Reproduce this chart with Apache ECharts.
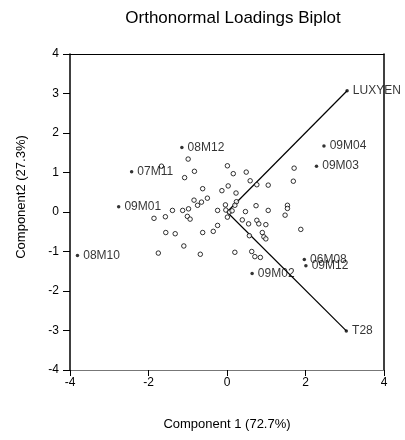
<!DOCTYPE html>
<html>
<head>
<meta charset="utf-8">
<script src="https://cdn.jsdelivr.net/npm/echarts@6/dist/echarts.min.js"></script>
<style>html,body{margin:0;padding:0;background:#fff;}#chart{width:405px;height:440px;}</style>
</head>
<body>
<div id="chart"></div>
<script>
// Unlabeled observation scores
var obsX = [-0.99,-1.67,-0.83,-1.08,0.01,0.16,-0.62,0.03,-0.13,0.23,-0.50,-0.84,-0.65,-0.75,-1.39,-1.13,-0.98,-1.86,-1.57,-1.01,-0.94,-0.24,-0.04,0.24,0.20,0.01,0.06,-1.56,-1.32,-0.62,-0.35,-0.24,-1.10,-1.75,-0.68,0.20,0.49,0.59,0.76,1.05,1.71,1.69,0.47,0.74,1.05,1.54,1.54,1.48,0.39,0.55,0.76,0.81,0.99,0.90,0.94,0.99,1.88,0.57,0.63,0.71,0.85,0.13,-0.03];
var obsY = [1.34,1.16,1.03,0.87,1.17,0.97,0.59,0.66,0.54,0.48,0.35,0.30,0.25,0.17,0.04,0.04,0.08,-0.16,-0.12,-0.11,-0.18,0.04,0.18,0.26,0.17,-0.13,0.00,-0.52,-0.55,-0.52,-0.49,-0.34,-0.86,-1.04,-1.07,-1.02,1.01,0.79,0.69,0.68,1.11,0.78,0.01,0.16,0.04,0.17,0.09,-0.08,-0.20,-0.30,-0.21,-0.30,-0.32,-0.52,-0.63,-0.68,-0.44,-0.60,-1.00,-1.13,-1.15,0.03,0.05];
// Labeled observations
var labelNames = ['09M04','09M03','08M12','07M11','09M01','08M10','06M08','09M12','09M02'];
var labelX = [2.47,2.28,-1.15,-2.43,-2.76,-3.81,1.97,2.01,0.64];
var labelY = [1.67,1.16,1.63,1.02,0.13,-1.10,-1.20,-1.36,-1.56];
// Variable loadings (vectors)
var loadingNames = ['LUXYEN','T28'];
var loadingX = [3.06,3.04];
var loadingY = [3.07,-3.01];
// Axis ticks
var xTicks = [-4,-2,0,2,4];
var yTicks = [-4,-3,-2,-1,0,1,2,3,4];

var FONT = "'Liberation Sans', Arial, sans-serif";
var chart = echarts.init(document.getElementById('chart'), null, {renderer:'canvas'});

var obsData = obsX.map(function(x,i){return [x, obsY[i]];});
var labData = labelNames.map(function(n,i){return {name:n, value:[labelX[i], labelY[i]]};});
loadingNames.forEach(function(n,i){labData.push({name:n, value:[loadingX[i], loadingY[i]]});});
var vecSeries = loadingNames.map(function(n,i){
  return {type:'line', name:n+'_vec', data:[[0,0],[loadingX[i],loadingY[i]]], symbol:'none',
    lineStyle:{color:'#000', width:1.2}, silent:true, z:2, animation:false};
});

var option = {
  animation:false,
  title:{text:'Orthonormal Loadings Biplot', left:228, top:5, textAlign:'center',
    textStyle:{fontFamily:FONT, fontSize:17, fontWeight:'normal', color:'#000'}},
  grid:{left:70, right:21, top:54, bottom:70, containLabel:false},
  xAxis:[{type:'value', min:xTicks[0], max:xTicks[xTicks.length-1], interval:2, position:'bottom',
    name:'Component 1 (72.7%)', nameLocation:'middle', nameGap:48,
    nameTextStyle:{fontFamily:FONT, fontSize:13, color:'#000'},
    axisLine:{show:true, onZero:false, lineStyle:{color:'#777', width:1}},
    axisTick:{show:true, length:6, lineStyle:{color:'#000', width:1}},
    axisLabel:{fontFamily:FONT, fontSize:12, color:'#000', margin:7},
    splitLine:{show:false}},
   {type:'value', min:-4, max:4, interval:2, position:'top',
    axisLine:{show:true, onZero:false, lineStyle:{color:'#000', width:1}},
    axisTick:{show:false}, axisLabel:{show:false}, splitLine:{show:false}}],
  yAxis:[{type:'value', min:yTicks[0], max:yTicks[yTicks.length-1], interval:1, position:'left',
    axisLine:{show:true, onZero:false, lineStyle:{color:'#000', width:1.5}},
    axisTick:{show:true, length:7, lineStyle:{color:'#000', width:1}},
    axisLabel:{fontFamily:FONT, fontSize:12, color:'#000', margin:11},
    splitLine:{show:false}},
   {type:'value', min:-4, max:4, interval:1, position:'right',
    axisLine:{show:true, onZero:false, lineStyle:{color:'#000', width:1.5}},
    axisTick:{show:false}, axisLabel:{show:false}, splitLine:{show:false}}],
  graphic:[{type:'text', x:21, y:197, rotation:Math.PI/2,
    style:{text:'Component2 (27.3%)', font:'13px '+FONT, fill:'#000', textAlign:'center', textVerticalAlign:'middle'}}],
  series: vecSeries.concat([
    {type:'scatter', name:'obs', data:obsData, symbol:'circle', symbolSize:4.5,
      itemStyle:{color:'#fff', borderColor:'#000', borderWidth:1}, z:3, clip:false},
    {type:'scatter', name:'labeled', data:labData, symbol:'circle', symbolSize:3.5,
      itemStyle:{color:'#000'}, z:4, clip:false,
      label:{show:true, position:'right', distance:4, formatter:'{b}',
        fontFamily:FONT, fontSize:12, color:'#000'},
      labelLayout:{hideOverlap:false}}
  ])
};
chart.setOption(option);
</script>
</body>
</html>
